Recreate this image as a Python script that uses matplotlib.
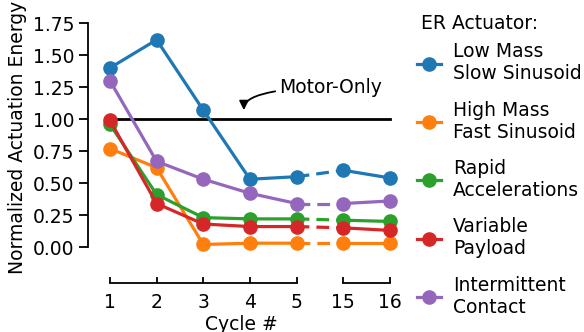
import numpy as np
import matplotlib.pyplot as plt
from matplotlib.spines import Spine

# cycle numbers shown on the x axis (5 -> 15 is a break)
cycles = [1, 2, 3, 4, 5, 15, 16]
low_mass_slow = [1.40, 1.62, 1.07, 0.53, 0.55, 0.60, 0.54]
high_mass_fast = [0.77, 0.62, 0.02, 0.03, 0.03, 0.03, 0.03]
rapid_accel = [0.96, 0.41, 0.23, 0.22, 0.22, 0.21, 0.20]
variable_payload = [0.99, 0.34, 0.18, 0.16, 0.16, 0.15, 0.13]
intermittent = [1.30, 0.67, 0.53, 0.42, 0.34, 0.34, 0.36]
series = [low_mass_slow, high_mass_fast, rapid_accel, variable_payload, intermittent]
names = ["Low Mass\nSlow Sinusoid", "High Mass\nFast Sinusoid", "Rapid\nAccelerations",
         "Variable\nPayload", "Intermittent\nContact"]
colors = ["tab:blue", "tab:orange", "tab:green", "tab:red", "tab:purple"]
motor_only = 1.0

plt.rcParams["font.size"] = 13.5
plt.rcParams["axes.linewidth"] = 1.3

fig = plt.figure(figsize=(5.84, 3.32), dpi=100)
ax = fig.add_axes([0.1507, 0.2328, 0.525, 0.709])

pos = np.arange(1, len(cycles) + 1)
ax.plot([pos[0], pos[-1]], [motor_only, motor_only], color="black", lw=2, zorder=1)

for vals, name, c in zip(series, names, colors):
    vals = np.array(vals)
    ax.plot(pos[:5], vals[:5], "-o", color=c, lw=2.3, ms=9.5, label=name, clip_on=False, zorder=3)
    ax.plot(pos[4:6], vals[4:6], "--", color=c, lw=2.3, dashes=(4, 2.2), zorder=2)
    ax.plot(pos[5:], vals[5:], "-o", color=c, lw=2.3, ms=9.5, clip_on=False, zorder=3)

ax.annotate("Motor-Only", xy=(3.87, 1.07), xytext=(4.63, 1.245), va="center", ha="left",
            arrowprops=dict(arrowstyle="-|>", color="black", lw=1.3,
                            connectionstyle="angle3,angleA=0,angleB=90", shrinkA=1, shrinkB=0))

ax.set_xlim(0.53, 7.1)
ax.set_ylim(-0.06, 1.78)
ax.set_yticks([0, 0.25, 0.5, 0.75, 1.0, 1.25, 1.5, 1.75])
ax.set_xticks(pos)
ax.set_xticklabels([str(c) for c in cycles])
ax.set_ylabel("Normalized Actuation Energy")
ax.set_xlabel("Cycle #", labelpad=2)

ax.spines["top"].set_visible(False)
ax.spines["right"].set_visible(False)
ax.spines["left"].set_bounds(0, 1.75)
ax.spines["bottom"].set_position(("outward", 20.4))
ax.spines["bottom"].set_bounds(1, 5)
extra = Spine.linear_spine(ax, "bottom")
ax.spines["bottom2"] = extra
extra.set_position(("outward", 20.4))
extra.set_bounds(6, 7)

ax.tick_params(axis="y", direction="out", length=6.5, width=1.3)
ax.tick_params(axis="x", direction="in", length=4.5, width=1.3, pad=7)

fig.text(0.7209, 0.9307, "ER Actuator:", va="center", ha="left")
ax.legend(loc="upper left", bbox_to_anchor=(0.6918, 0.9126),
          bbox_transform=fig.transFigure, frameon=False,
          borderpad=0.2, handlelength=1.27, handletextpad=0.65, labelspacing=0.93)

fig.savefig("out.png", dpi=100)
